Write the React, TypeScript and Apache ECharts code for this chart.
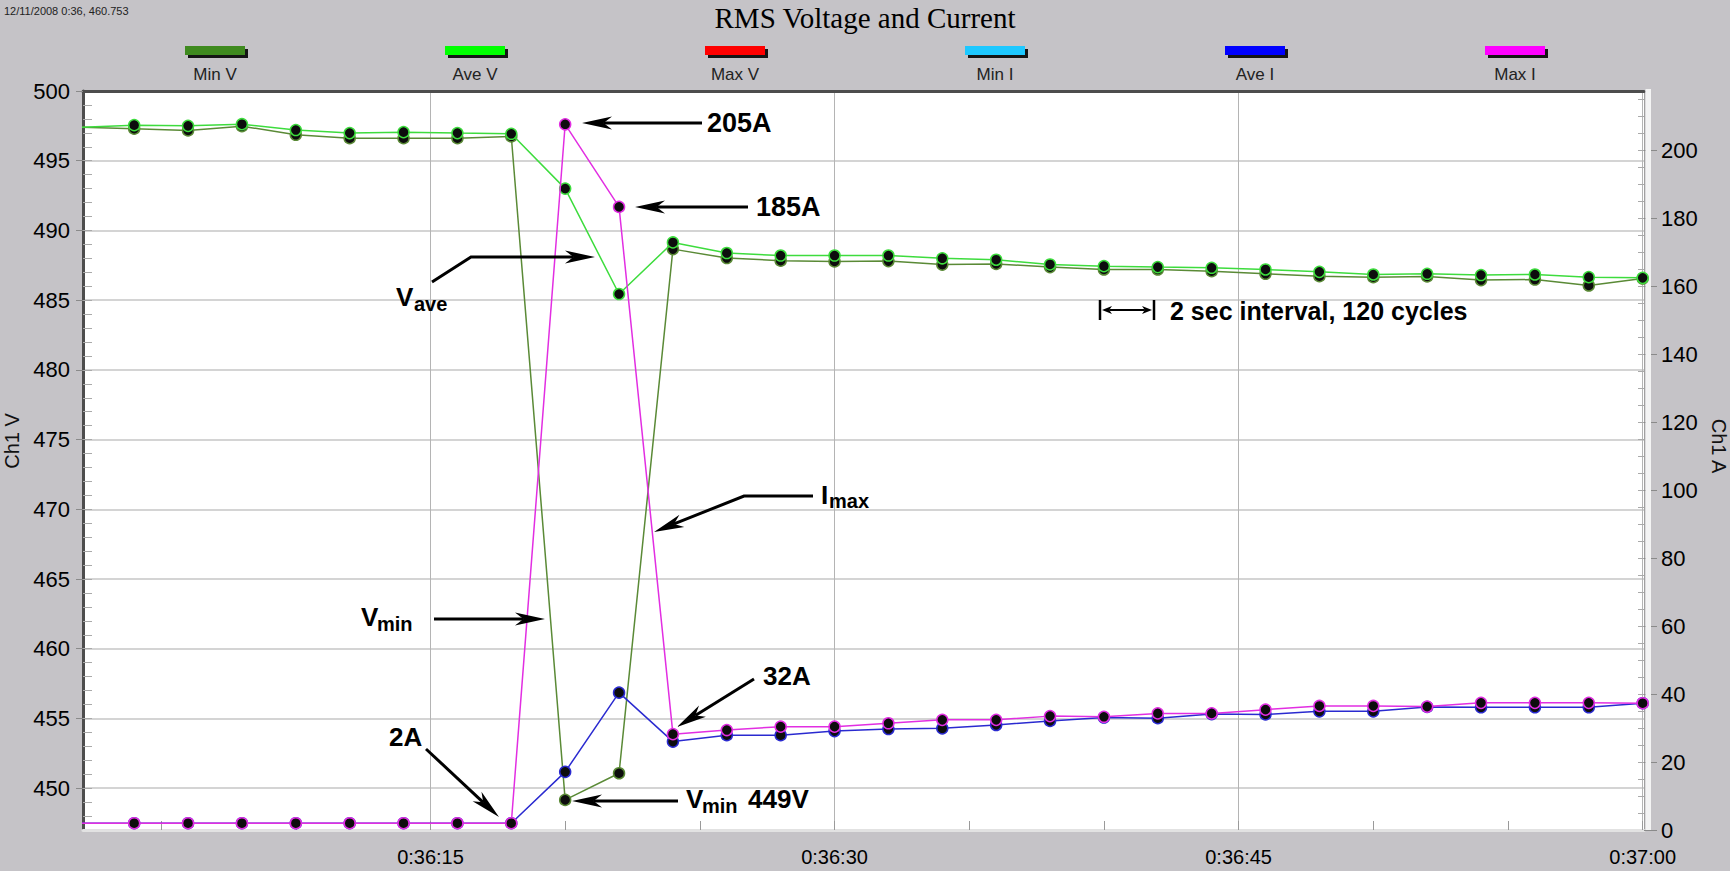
import React, { useEffect, useRef } from 'react';
import * as echarts from 'echarts';

// seconds after 0:36:00, one reading every 2 s (120 cycles)
const seconds = [2, 4, 6, 8, 10, 12, 14, 16, 18, 20, 22, 24, 26, 28, 30, 32, 34, 36, 38, 40, 42, 44, 46, 48, 50, 52, 54, 56, 58, 60];

const minV = [497.4, 497.3, 497.17, 497.48, 496.86, 496.62, 496.62, 496.62, 496.74, 449.16, 451.07, 488.66, 488.02, 487.83, 487.78, 487.8, 487.55, 487.6, 487.37, 487.2, 487.2, 487.08, 486.89, 486.72, 486.65, 486.7, 486.44, 486.48, 486.05, 486.55];
const aveV = [497.4, 497.55, 497.5, 497.62, 497.2, 496.98, 497.05, 496.98, 496.93, 493.0, 485.44, 489.14, 488.38, 488.2, 488.2, 488.2, 488.0, 487.9, 487.56, 487.44, 487.37, 487.32, 487.2, 487.03, 486.84, 486.89, 486.8, 486.84, 486.65, 486.6];
const aveI = [2, 2, 2, 2, 2, 2, 2, 2, 2, 17.1, 40.4, 26.0, 27.9, 27.9, 29.1, 29.7, 29.9, 30.9, 32.1, 33.1, 32.9, 34.1, 34.0, 34.9, 34.9, 36.2, 36.1, 36.1, 36.1, 37.3];
const maxI = [2, 2, 2, 2, 2, 2, 2, 2, 2, 207.6, 183.3, 28.2, 29.4, 30.4, 30.4, 31.4, 32.4, 32.4, 33.5, 33.3, 34.3, 34.3, 35.4, 36.5, 36.5, 36.3, 37.4, 37.4, 37.4, 37.3];

const legendNames = ['Min V', 'Ave V', 'Max V', 'Min I', 'Ave I', 'Max I'];
const legendColors = ['#3f8a1f', '#00ff00', '#ff0000', '#1ec8ff', '#0000ff', '#ff00ff'];

const vMajor = [450, 455, 460, 465, 470, 475, 480, 485, 490, 495, 500];
const vMinor = Array.from({ length: 52 }, (_, i) => 448 + i);
const aMajor = [0, 20, 40, 60, 80, 100, 120, 140, 160, 180, 200];
const aMinor = Array.from({ length: 43 }, (_, i) => 5 + i * 5);
const tMajor = [15, 30, 45, 60];
const tMinor = [5, 10, 15, 20, 25, 30, 35, 40, 45, 50, 55, 60];

const X_MIN = 2.1;
const X_MAX = 60.05;
const V_MIN = 447.0;
const V_MAX = 500;
const A_MIN = 0;
const A_MAX = 217.4;

const SANS = '"Liberation Sans", Arial, sans-serif';

function fmtTime(v: number) {
  const t = 36 * 60 + Math.round(v);
  return `0:${Math.floor(t / 60)}:${String(t % 60).padStart(2, '0')}`;
}

function arrow(pts: number[][], head = 30, half = 6.5, width = 3) {
  const n = pts.length;
  const [x1, y1] = pts[n - 2];
  const [x2, y2] = pts[n - 1];
  const dx = x2 - x1, dy = y2 - y1;
  const L = Math.hypot(dx, dy);
  const ux = dx / L, uy = dy / L;
  const px = -uy, py = ux;
  const bx = x2 - ux * head, by = y2 - uy * head;
  const nx = x2 - ux * head * 0.72, ny = y2 - uy * head * 0.72;
  const shaft = pts.slice(0, n - 1).concat([[nx, ny]]);
  return [
    { type: 'polyline', z: 10, shape: { points: shaft }, style: { stroke: '#000', lineWidth: width, fill: null } },
    {
      type: 'polygon', z: 10,
      shape: { points: [[x2, y2], [bx + px * half, by + py * half], [nx, ny], [bx - px * half, by - py * half]] },
      style: { fill: '#000' },
    },
  ];
}

function txt(x: number, y: number, text: string, size: number, weight = 'bold') {
  return {
    type: 'text', x, y, z: 10,
    style: { text, font: `${weight} ${size}px ${SANS}`, fill: '#000', align: 'left', verticalAlign: 'middle' },
  };
}

function buildGraphics() {
  const els: any[] = [];
  // top-left status text
  els.push({ type: 'text', x: 4, y: 11, style: { text: '12/11/2008 0:36, 460.753', font: `11px ${SANS}`, fill: '#222', verticalAlign: 'middle' } });
  // legend (icon above label)
  legendNames.forEach((name, i) => {
    const cx = 215 + i * 260;
    els.push({ type: 'rect', shape: { x: cx - 30 + 3, y: 49, width: 60, height: 9 }, style: { fill: '#151515' } });
    els.push({ type: 'rect', shape: { x: cx - 30, y: 46, width: 60, height: 9 }, style: { fill: legendColors[i] } });
    els.push({ type: 'text', x: cx, y: 74, style: { text: name, font: `17px ${SANS}`, fill: '#222', align: 'center', verticalAlign: 'middle' } });
  });
  // white bevel strip at right edge of the plot
  els.push({ type: 'rect', z: 1, shape: { x: 1645.5, y: 89, width: 5.5, height: 741 }, style: { fill: '#f4f4f4' } });

  // annotations
  els.push(txt(707, 123, '205A', 27));
  els.push(...arrow([[702, 123], [582, 123]]));
  els.push(txt(756, 207, '185A', 27));
  els.push(...arrow([[748, 207], [635, 207]]));

  els.push(txt(396, 297, 'V', 26));
  els.push(txt(414, 304, 'ave', 20));
  els.push(...arrow([[432, 282], [471, 257], [595, 257]]));

  els.push(txt(821, 495, 'I', 26));
  els.push(txt(829, 501, 'max', 20));
  els.push(...arrow([[813, 496], [744, 496], [654, 532]]));

  els.push(txt(361, 617, 'V', 26));
  els.push(txt(377, 624, 'min', 20));
  els.push(...arrow([[434, 619], [545, 619]]));

  els.push(txt(763, 676, '32A', 26));
  els.push(...arrow([[754, 679], [677, 727]]));

  els.push(txt(389, 737, '2A', 26));
  els.push(...arrow([[426, 749], [499, 817]]));

  els.push(txt(686, 799, 'V', 26));
  els.push(txt(702, 806, 'min', 20));
  els.push(txt(748, 799, '449V', 26));
  els.push(...arrow([[678, 801], [572, 801]]));

  // 2 sec interval marker
  els.push({ type: 'line', z: 10, shape: { x1: 1100, y1: 300, x2: 1100, y2: 320 }, style: { stroke: '#000', lineWidth: 2.5 } });
  els.push({ type: 'line', z: 10, shape: { x1: 1154, y1: 300, x2: 1154, y2: 320 }, style: { stroke: '#000', lineWidth: 2.5 } });
  els.push(...arrow([[1127, 310], [1152, 310]], 10, 4, 2));
  els.push(...arrow([[1127, 310], [1102, 310]], 10, 4, 2));
  els.push(txt(1170, 311, '2 sec interval, 120 cycles', 25));
  return els;
}

function lineSeries(name: string, values: number[], color: string, yAxisIndex: number, z: number) {
  return {
    name,
    type: 'line',
    xAxisIndex: 0,
    yAxisIndex,
    data: seconds.map((s, i) => [s, values[i]]),
    symbol: 'circle',
    symbolSize: 11,
    showSymbol: true,
    clip: true,
    z,
    lineStyle: { color, width: 1.5 },
    itemStyle: { color: '#0d0d0d', borderColor: color, borderWidth: 1.5 },
    emphasis: { disabled: true },
  };
}

export default function App() {
  const ref = useRef<HTMLDivElement>(null);
  useEffect(() => {
    const chart = echarts.init(ref.current!, null, { renderer: 'svg' });
    const option: any = {
      animation: false,
      backgroundColor: '#c5c3c7',
      textStyle: { fontFamily: SANS },
      title: {
        text: 'RMS Voltage and Current',
        left: 'center',
        top: -2,
        textStyle: { fontFamily: '"Liberation Serif", "Times New Roman", serif', fontSize: 29, fontWeight: 'normal', color: '#000' },
      },
      grid: {
        left: 83, right: 86, top: 91, bottom: 41,
        show: true, backgroundColor: '#ffffff', borderWidth: 0,
        containLabel: false, outerBoundsMode: 'none',
      },
      xAxis: [
        {
          type: 'value', position: 'bottom', min: X_MIN, max: X_MAX,
          axisLine: { show: true, lineStyle: { color: '#e2e2e2', width: 3 } },
          axisTick: { show: false, customValues: tMajor },
          axisLabel: { customValues: tMajor, formatter: fmtTime, fontSize: 20, color: '#000', margin: 17, fontFamily: SANS },
          splitLine: { show: true, lineStyle: { color: '#b4b4b4', width: 1 } },
        },
        {
          type: 'value', position: 'bottom', min: X_MIN, max: X_MAX,
          axisLine: { show: false },
          axisTick: { show: true, inside: true, length: 9, customValues: tMinor, lineStyle: { color: '#9a9a9a', width: 1 } },
          axisLabel: { show: false },
          splitLine: { show: false },
        },
        {
          type: 'value', position: 'top', min: X_MIN, max: X_MAX,
          axisLine: { show: true, lineStyle: { color: '#4d4d4d', width: 3 } },
          axisTick: { show: false },
          axisLabel: { show: false },
          splitLine: { show: false },
        },
      ],
      yAxis: [
        {
          type: 'value', position: 'left', min: V_MIN, max: V_MAX,
          name: 'Ch1 V', nameLocation: 'middle', nameGap: 56, nameRotate: 90,
          nameTextStyle: { fontSize: 20, color: '#111', fontFamily: SANS, padding: [0, 0, 0, 39] },
          axisLine: { show: true, lineStyle: { color: '#4d4d4d', width: 3 } },
          axisTick: { show: true, inside: false, length: 7, customValues: vMajor, lineStyle: { color: '#8a8a8a' } },
          axisLabel: { customValues: vMajor, fontSize: 22, color: '#000', margin: 13, fontFamily: SANS },
          splitLine: { show: true, lineStyle: { color: '#c6c6c6', width: 1.5 } },
        },
        {
          type: 'value', position: 'right', min: A_MIN, max: A_MAX,
          name: 'Ch1 A', nameLocation: 'middle', nameGap: 60, nameRotate: -90,
          nameTextStyle: { fontSize: 20, color: '#111', fontFamily: SANS, padding: [0, 29, 0, 0] },
          axisLine: { show: true, lineStyle: { color: '#a0a0a0', width: 1 } },
          axisTick: { show: true, inside: false, length: 13, customValues: aMajor, lineStyle: { color: '#8a8a8a' } },
          axisLabel: { customValues: aMajor, fontSize: 22, color: '#000', margin: 17, fontFamily: SANS },
          splitLine: { show: false },
        },
        {
          type: 'value', position: 'left', min: V_MIN, max: V_MAX,
          axisLine: { show: false },
          axisTick: { show: true, inside: true, length: 9, customValues: vMinor, lineStyle: { color: '#aaaaaa' } },
          axisLabel: { show: false },
          splitLine: { show: false },
        },
        {
          type: 'value', position: 'right', min: A_MIN, max: A_MAX,
          axisLine: { show: false },
          axisTick: { show: true, inside: true, length: 6, customValues: aMinor, lineStyle: { color: '#aaaaaa' } },
          axisLabel: { show: false },
          splitLine: { show: false },
        },
      ],
      series: [
        lineSeries('Min V', minV, '#5a8a36', 0, 2),
        lineSeries('Ave V', aveV, '#3ddc3d', 0, 3),
        lineSeries('Ave I', aveI, '#2a2ad0', 1, 4),
        lineSeries('Max I', maxI, '#e22ee2', 1, 5),
      ],
      graphic: buildGraphics(),
    };
    chart.setOption(option);
    return () => chart.dispose();
  }, []);
  return <div ref={ref} style={{ position: 'fixed', left: 0, top: 0, width: 1730, height: 871 }} />;
}
